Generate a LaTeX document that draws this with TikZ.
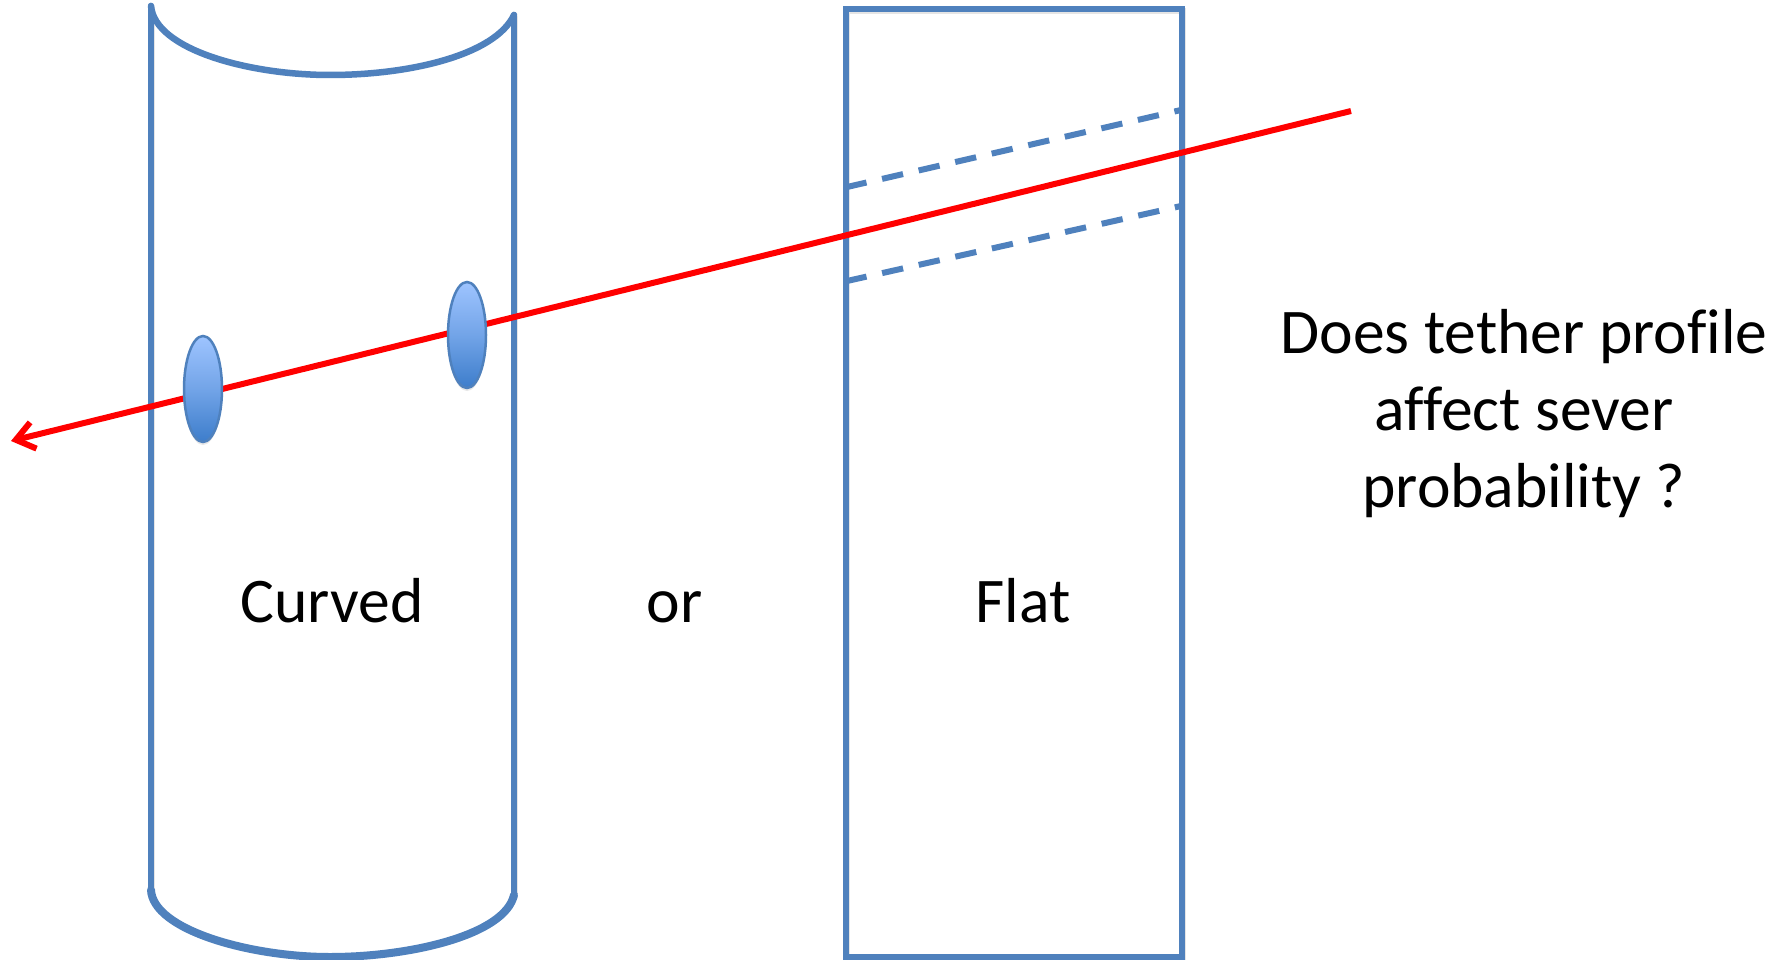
\documentclass[tikz,border=0pt]{standalone}
\usepackage{fontspec}
\setmainfont[RawFeature=-liga]{Carlito}
\usetikzlibrary{arrows.meta,shapes.geometric,shadows,calc}
\definecolor{tblue}{HTML}{4F81BD}
\definecolor{ellTop}{HTML}{9EC4FF}
\definecolor{ellBot}{HTML}{3D7DCB}
\tikzset{
  wall/.style={draw=tblue,line width=6.5pt,line cap=round,line join=miter},
  wallshadow/.style={draw=black,opacity=0.10,line width=5.5pt,line cap=round,transform canvas={xshift=1.5pt,yshift=-2pt}},
  cutline/.style={draw=tblue,line width=6pt,dash pattern=on 21.5pt off 16pt,dash phase=1.5pt},
  tether/.style={draw=red,line width=6pt,-{Straight Barb[length=18pt,width=27pt,line width=6pt]}},
  debris/.style={ellipse,draw=tblue,line width=2.5pt,minimum width=38pt,minimum height=106pt,inner sep=0pt,
    top color=ellTop,bottom color=ellBot,middle color=ellTop!55!ellBot,
    drop shadow={shadow xshift=0pt,shadow yshift=-3pt,opacity=0.18}},
  lbl/.style={anchor=base,font=\fontsize{63.6}{76}\selectfont,inner sep=0pt,text=black},
}
\begin{document}
\begin{tikzpicture}[x=1pt,y=-1pt]
\useasboundingbox (0,0) rectangle (1786,960);
\fill[white] (0,0) rectangle (1786,960);
% endpoints
\coordinate (cTL) at (151,6);
\coordinate (cTR) at (514,15);
\coordinate (cBL) at (151,890);
\coordinate (cBR) at (514,895);
\coordinate (tEnd) at (1351,111);
\coordinate (tTip) at (11,441);
% shadows
\draw[wallshadow] (cTL) -- (cBL) (cTR) -- (cBR);
\draw[wallshadow] (846,9) rectangle (1182,957);
% cylinder
\draw[wall] (cTL) -- (cBL);
\draw[wall] (cTR) -- (cBR);
\draw[wall] (cTL) .. controls (155,50) and (250,75) .. (330,75) .. controls (410,75) and (495,55) .. (cTR);
\draw[wall,line width=8pt] (cBL) .. controls (153,930) and (250,957) .. (330,957) .. controls (410,957) and (505,935) .. (cBR);
% flat
\node[draw=tblue,line width=6.5pt,minimum width=336pt,minimum height=948pt,inner sep=0pt,outer sep=0pt] (flat) at (1014,483) {};
\coordinate (u1) at (847,187);
\coordinate (u2) at (1181,110);
\coordinate (l1) at (847,281);
\coordinate (l2) at (1181,206);
\draw[cutline] (u1) -- (u2);
\draw[cutline] (l1) -- (l2);
% tether
\draw[tether] (tEnd) -- (tTip);
% debris
\node[debris] (e1) at (203,389) {};
\node[debris] (e2) at (467,335) {};
% text
\node[lbl] (tc) at (332,622) {Curved};
\node[lbl] (to) at (674.5,622) {or};
\node[lbl] (tf) at (1023,622) {Flat};
\node[lbl] (q1) at (1524,353) {Does tether profile};
\node[lbl] (q2) at (1524,430) {affect sever};
\node[lbl] (q3) at (1524,507) {probability ?};
\end{tikzpicture}
\end{document}
